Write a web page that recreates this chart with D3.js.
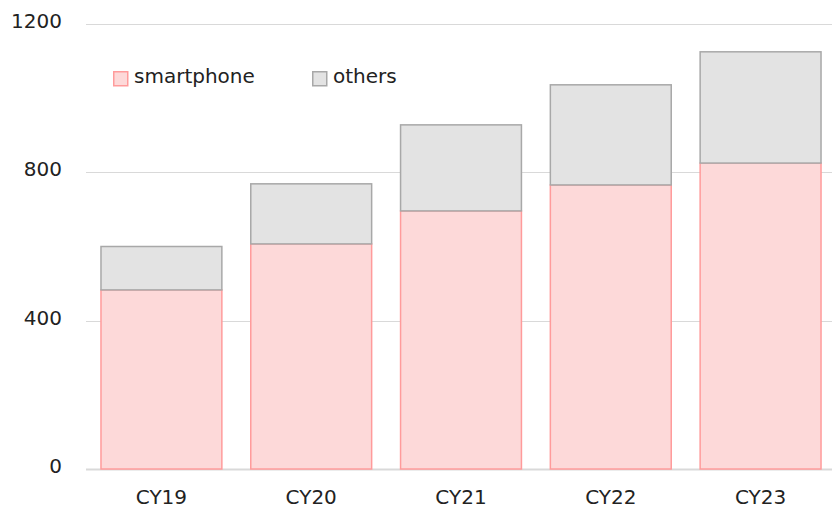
<!DOCTYPE html>
<html>
<head>
<meta charset="utf-8">
<script src="https://cdn.jsdelivr.net/npm/d3@7"></script>
<style>
  body { margin: 0; background: #fff; }
  text { font-family: "DejaVu Sans", Verdana, sans-serif; fill: #222; }
</style>
</head>
<body>
<svg id="chart" width="832" height="508"></svg>
<script>
var years = ["CY19", "CY20", "CY21", "CY22", "CY23"]
var smartphone = [483, 607, 696, 766, 825]
var others = [117, 162, 232, 270, 300]
var yTicks = [0, 400, 800, 1200]
var seriesNames = ["smartphone", "others"]

var fills = { smartphone: "#fdd9d9", others: "#e3e3e3" }
var strokes = { smartphone: "#ff9b9b", others: "#a8a8a8" }

var svg = d3.select("#chart")

var x = d3.scaleBand()
  .domain(years)
  .range([86, 836])
  .paddingInner(0.193)
  .paddingOuter(0.1)

var y = d3.scaleLinear().domain([0, 1200]).range([469, 24])

// gridlines
svg.append("g")
  .selectAll("line")
  .data(yTicks)
  .enter()
  .append("line")
  .attr("x1", 86)
  .attr("x2", 832)
  .attr("y1", function(d) { return Math.round(y(d)) + 0.5 })
  .attr("y2", function(d) { return Math.round(y(d)) + 0.5 })
  .style("stroke", "#d9d9d9")
  .style("stroke-width", function(d) { return d == 0 ? 2 : 1.2 })

svg.append("g")
  .selectAll("text")
  .data(yTicks)
  .enter()
  .append("text")
  .attr("x", 62)
  .attr("y", function(d) { return y(d) + 4 })
  .attr("text-anchor", "end")
  .style("font-size", "20px")
  .text(function(d) { return d })

// stacked bars
var rows = years.map(function(c, i) {
  return { year: c, smartphone: smartphone[i], others: others[i] }
})
var stacked = d3.stack().keys(seriesNames)(rows)

svg.append("g")
  .selectAll("g")
  .data(stacked)
  .enter()
  .append("g")
  .each(function(layer) {
    d3.select(this)
      .selectAll("rect")
      .data(layer)
      .enter()
      .append("rect")
      .attr("x", function(d) { return x(d.data.year) })
      .attr("y", function(d) { return y(d[1]) })
      .attr("width", x.bandwidth())
      .attr("height", function(d) { return y(d[0]) - y(d[1]) })
      .attr("fill", fills[layer.key])
      .style("stroke", strokes[layer.key])
      .style("stroke-width", 1.5)
  })

// x labels
svg.append("g")
  .selectAll("text")
  .data(years)
  .enter()
  .append("text")
  .attr("x", function(d) { return x(d) + x.bandwidth() / 2 })
  .attr("y", 504)
  .attr("text-anchor", "middle")
  .style("font-size", "20px")
  .text(function(d) { return d })

// legend
var legendX = [113, 312]
var legend = svg.append("g")
  .selectAll("g")
  .data(seriesNames)
  .enter()
  .append("g")
  .attr("transform", function(d, i) { return "translate(" + legendX[i] + ",71)" })

legend.append("rect")
  .attr("x", 0.75)
  .attr("y", 0.75)
  .attr("width", 14)
  .attr("height", 14)
  .attr("fill", function(d) { return fills[d] })
  .style("stroke", function(d) { return strokes[d] })
  .style("stroke-width", 1.5)

legend.append("text")
  .attr("x", 21)
  .attr("y", 12)
  .style("font-size", "20px")
  .text(function(d) { return d })
</script>
</body>
</html>
